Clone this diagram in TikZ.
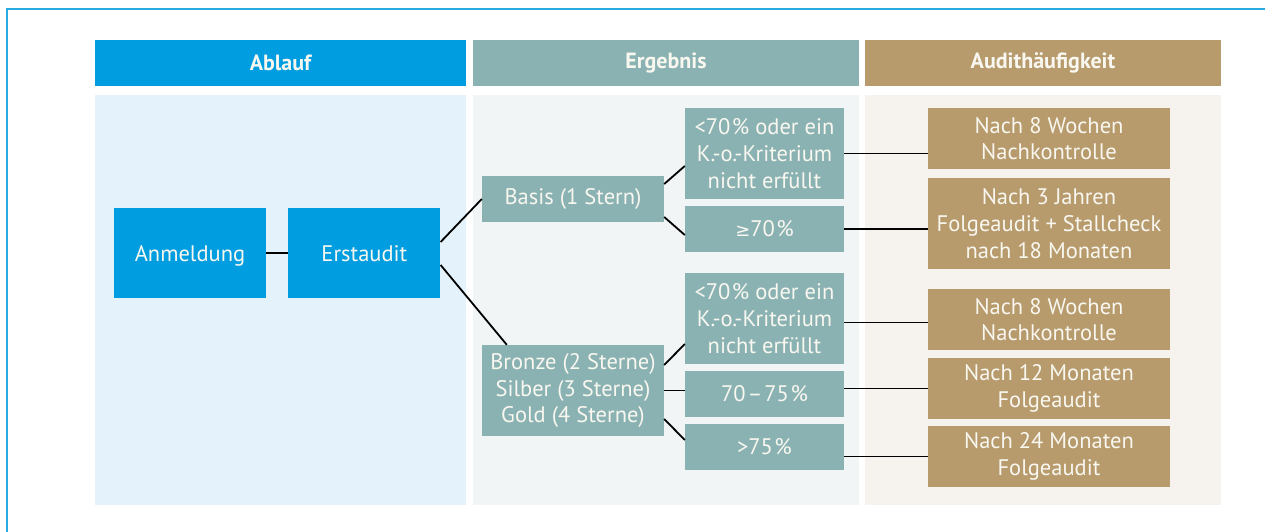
\documentclass[tikz,border=0pt]{standalone}
\usepackage{fontspec}
\setmainfont{PT Sans}
\newfontfamily\symfont{DejaVu Sans}
\usepackage{xcolor}
\usepackage{tikz}
\usetikzlibrary{positioning,calc}
\definecolor{headablauf}{RGB}{0,158,224}
\definecolor{headergebnis}{RGB}{139,178,178}
\definecolor{headaudit}{RGB}{184,155,109}
\definecolor{bgablauf}{RGB}{228,243,251}
\definecolor{bgergebnis}{RGB}{241,245,246}
\definecolor{bgaudit}{RGB}{246,243,238}
\definecolor{frameblue}{RGB}{41,171,226}
\definecolor{boxtext}{RGB}{248,247,240}
\newcommand{\pct}{\kern1.5pt\%}
\tikzset{
    boxbase/.style={
        inner sep=0pt,
        text=boxtext,
        align=center,
        font=\fontsize{22.5}{26.7}\selectfont
    },
    headbox/.style={
        boxbase,
        minimum height=46pt,
        font=\fontsize{22}{24}\selectfont\bfseries
    },
    stepbox/.style={boxbase, fill=headablauf, minimum width=152pt, minimum height=90pt, text height=19pt, text depth=3pt},
    levelbox/.style={boxbase, fill=headergebnis, minimum width=182pt},
    resultbox/.style={boxbase, fill=headergebnis, minimum width=159pt},
    auditbox/.style={boxbase, fill=headaudit, minimum width=242pt, minimum height=61pt},
    link/.style={draw=black, line width=1.8pt}
}

\begin{document}
\begin{tikzpicture}[x=1pt,y=-1pt]
        \useasboundingbox (0,0) rectangle (1265,532);
        % draw outer frame
        \draw[frameblue, line width=2pt] (6.5,532) -- (6.5,9.5) -- (1265,9.5);

        % draw column headers and backgrounds
        \foreach \col/\xl/\xr/\head in {ablauf/95/466/Ablauf, ergebnis/473/859/Ergebnis, audit/865/1221/Audithäufigkeit}
        {
            \fill[bg\col] (\xl,95) rectangle (\xr,505);
            \node[headbox, fill=head\col, minimum width={(\xr-\xl)*1pt}] (h\col) at ({(\xl+\xr)/2},63) {\head};
        }

        % draw ablauf nodes
        \node[stepbox] (anm) at (190,253) {Anmeldung};
        \node[stepbox, right=22pt of anm] (erst) {Erstaudit};

        % draw ergebnis nodes
        \node[levelbox, minimum height=46pt] (basis) at (573,199) {Basis (1 Stern)};
        \node[levelbox, minimum height=91pt] (bronze) at (573,390.5) {Bronze (2 Sterne)\\Silber (3 Sterne)\\Gold (4 Sterne)};
        \node[resultbox, minimum height=91pt] (r1) at (764.5,153.5) {<70\pct{} oder ein\\K.-o.-Kriterium\\nicht erfüllt};
        \node[resultbox, minimum height=46pt] (r2) at (764.5,229) {{\symfont\fontsize{18}{24}\selectfont ≥}70\pct};
        \node[resultbox, minimum height=91pt] (r3) at (764.5,318.5) {<70\pct{} oder ein\\K.-o.-Kriterium\\nicht erfüllt};
        \node[resultbox, minimum height=46pt] (r4) at (764.5,394) {70\kern2pt–\kern2pt75\pct};
        \node[resultbox, minimum height=46pt] (r5) at (764.5,447) {>75\pct};

        % draw audit nodes
        \node[auditbox] (g1) at (1049,138.5) {Nach 8 Wochen\\Nachkontrolle};
        \node[auditbox, minimum height=91pt] (g2) at (1049,223.5) {Nach 3 Jahren\\Folgeaudit + Stallcheck\\nach 18 Monaten};
        \node[auditbox] (g3) at (1049,319.5) {Nach 8 Wochen\\Nachkontrolle};
        \node[auditbox] (g4) at (1049,388.5) {Nach 12 Monaten\\Folgeaudit};
        \node[auditbox] (g5) at (1049,456.5) {Nach 24 Monaten\\Folgeaudit};

        % draw connectors
        \draw[link] (anm) -- (erst);
        \draw[link] ($(erst.east)+(0,-11)$) -- (basis.west);
        \draw[link] ($(erst.east)+(0,12)$) -- ($(bronze.north west)+(25,0)$);
        \draw[link] ($(basis.east)+(0,-15)$) -- ($(r1.west)+(0,12.5)$);
        \draw[link] ($(basis.east)+(0,18)$) -- ($(r2.west)+(0,6)$);
        \draw[link] ($(bronze.east)+(0,-25.5)$) -- ($(r3.west)+(0,25.5)$);
        \draw[link] (bronze.east) -- (bronze.east -| r4.west);
        \draw[link] ($(bronze.east)+(0,28.5)$) -- ($(r5.west)+(0,-7)$);
        \draw[link] (r1.east) -- (r1.east -| g1.west);
        \draw[link] (r2.east) -- (r2.east -| g2.west);
        \draw[link] ($(r3.east)+(0,4)$) -- ($(r3.east -| g3.west)+(0,4)$);
        \draw[link] (g4.west -| r4.east) -- (g4.west);
        \draw[link] (g5.west -| r5.east) -- (g5.west);
\end{tikzpicture}
\end{document}
